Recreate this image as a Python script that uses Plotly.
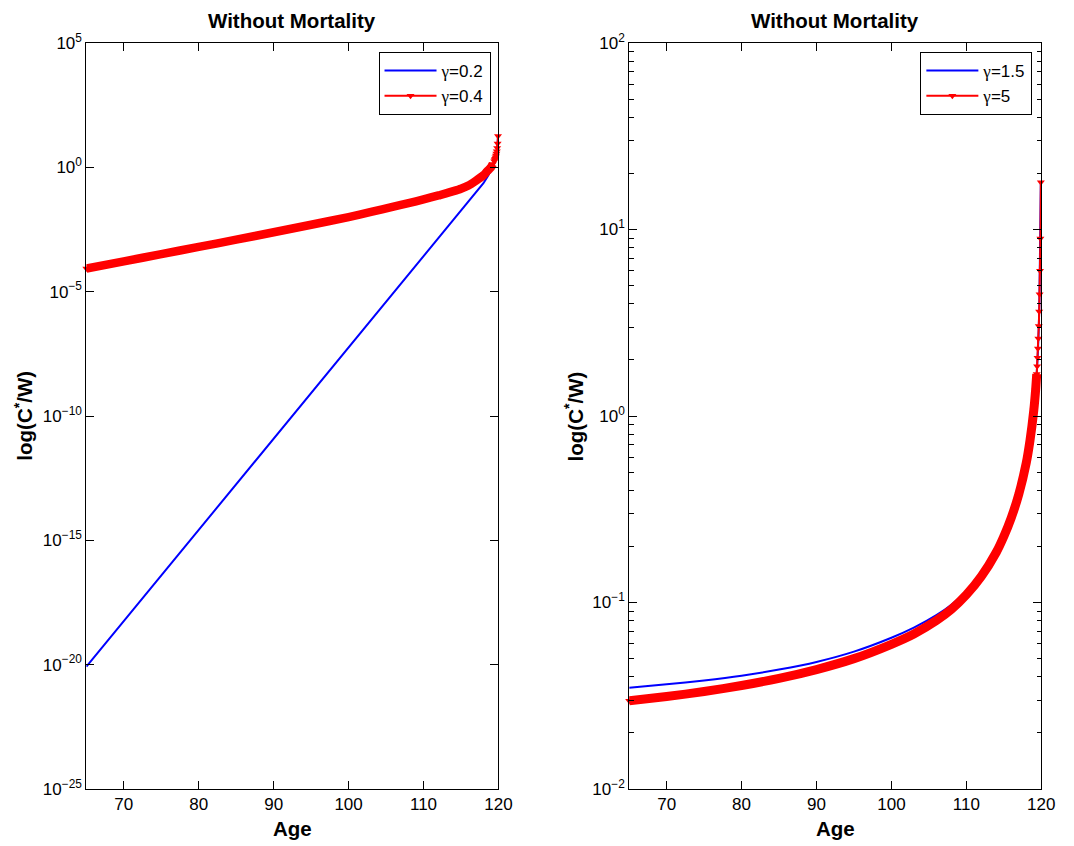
import plotly.graph_objects as go

# ---------------- data ----------------
# Left panel: gamma = 0.2 and gamma = 0.4
age_left_g02 = [65, 75, 85, 95, 105, 110, 113, 115, 116, 117, 118, 118.5, 119, 119.5, 119.75, 119.89, 119.945]
cw_left_g02 = [8.3e-21, 3.9e-17, 1.8e-13, 8.5e-10, 4.0e-6, 2.7e-4, 3.4e-3, 0.0182, 0.0417, 0.0955,
               0.229, 0.40, 0.72, 1.62, 3.63, 8.7, 17.9]

age_left_g04 = [65, 70, 75, 80, 85, 90, 95, 100, 103, 106, 108, 110, 112, 113, 114, 115, 116, 117, 118,
                118.5, 119, 119.25, 119.45, 119.505, 119.56, 119.615, 119.67, 119.725, 119.78, 119.835,
                119.89, 119.945]
cw_left_g04 = [8.5e-5, 1.66e-4, 3.24e-4, 6.3e-4, 1.23e-3, 2.45e-3, 4.9e-3, 0.0100, 0.0162, 0.0263,
               0.0363, 0.0513, 0.0741, 0.0891, 0.110, 0.138, 0.185, 0.29, 0.48,
               0.70, 1.0, 1.35, 1.75, 1.95, 2.21, 2.53, 2.96, 3.57, 4.48, 5.99,
               9.0, 18.1]

# Right panel: gamma = 1.5 and gamma = 5
age_right_g15 = [65, 70, 75, 80, 85, 90, 95, 100, 103, 106, 108, 110, 112, 114, 116, 117, 118, 118.5,
                 119, 119.5, 119.75, 119.945]
cw_right_g15 = [0.0349, 0.0364, 0.0382, 0.0405, 0.0437, 0.0480, 0.0545, 0.0647, 0.0733, 0.0855,
                0.0973, 0.115, 0.140, 0.188, 0.287, 0.38, 0.56, 0.74,
                1.07, 2.0, 4.0, 17.9]

age_right_g5 = [65, 70, 75, 80, 85, 90, 95, 100, 103, 106, 108, 110, 112, 114, 115, 116, 117, 118, 118.5,
                119, 119.25, 119.395, 119.45, 119.505, 119.56, 119.615, 119.67, 119.725, 119.78, 119.835,
                119.89, 119.945]
cw_right_g5 = [0.0297, 0.0313, 0.0333, 0.0359, 0.0392, 0.0437, 0.0500, 0.0597, 0.0678, 0.0800,
               0.0919, 0.110, 0.138, 0.186, 0.226, 0.285, 0.38, 0.56, 0.74,
               1.07, 1.38, 1.68, 1.85, 2.05, 2.3, 2.6, 3.04, 3.63, 4.5, 6.0,
               8.95, 17.9]

x_ticks = [70, 80, 90, 100, 110, 120]
left_y_ticks = [1e-25, 1e-20, 1e-15, 1e-10, 1e-5, 1e0, 1e5]
left_y_text = ["10<sup>\u221225</sup>", "10<sup>\u221220</sup>", "10<sup>\u221215</sup>",
               "10<sup>\u221210</sup>", "10<sup>\u22125</sup>", "10<sup>0</sup>", "10<sup>5</sup>"]
right_y_ticks = [1e-2, 1e-1, 1e0, 1e1, 1e2]
right_y_text = ["10<sup>\u22122</sup>", "10<sup>\u22121</sup>", "10<sup>0</sup>", "10<sup>1</sup>", "10<sup>2</sup>"]
right_minor = [m * 10.0 ** k for k in range(-2, 2) for m in range(2, 10)]

FONT = "Liberation Sans, Arial, Helvetica, sans-serif"
GAMMA = "<span style='font-family:Liberation Serif'>\u03b3</span>"
BLUE = "#0000ff"
RED = "#ff0000"
BAND_LEFT_END = 22    # points merged into a solid marker band (left)
BAND_RIGHT_END = 22   # points merged into a solid marker band (right)

fig = go.Figure()

# ---- left panel ----
fig.add_trace(go.Scatter(x=age_left_g02, y=cw_left_g02, mode="lines", name=GAMMA + "=0.2",
                         line=dict(color=BLUE, width=2), xaxis="x", yaxis="y", legend="legend"))
fig.add_trace(go.Scatter(x=age_left_g04[:BAND_LEFT_END], y=cw_left_g04[:BAND_LEFT_END], mode="lines",
                         line=dict(color=RED, width=8.5, shape="spline", smoothing=0.6),
                         showlegend=False, hoverinfo="skip", xaxis="x", yaxis="y"))
fig.add_trace(go.Scatter(x=age_left_g04, y=cw_left_g04, mode="lines+markers", name=GAMMA + "=0.4",
                         line=dict(color=RED, width=2),
                         marker=dict(symbol="triangle-down", size=7, color=RED),
                         cliponaxis=False, xaxis="x", yaxis="y", legend="legend"))

# ---- right panel ----
fig.add_trace(go.Scatter(x=age_right_g15, y=cw_right_g15, mode="lines", name=GAMMA + "=1.5",
                         line=dict(color=BLUE, width=2, shape="spline", smoothing=0.6),
                         xaxis="x2", yaxis="y2", legend="legend2"))
fig.add_trace(go.Scatter(x=age_right_g5[:BAND_RIGHT_END], y=cw_right_g5[:BAND_RIGHT_END], mode="lines",
                         line=dict(color=RED, width=9, shape="spline", smoothing=0.6),
                         showlegend=False, hoverinfo="skip", xaxis="x2", yaxis="y2"))
fig.add_trace(go.Scatter(x=age_right_g5, y=cw_right_g5, mode="lines+markers", name=GAMMA + "=5",
                         line=dict(color=RED, width=2),
                         marker=dict(symbol="triangle-down", size=7, color=RED),
                         cliponaxis=False, xaxis="x2", yaxis="y2", legend="legend2"))

W, H = 1074, 846
TOP, BOT = 43, 789
L1, R1 = 87.5, 505
L2, R2 = 637.5, 1055

axis_common = dict(showline=True, linecolor="black", linewidth=1, mirror="allticks",
                   ticks="inside", ticklen=8, tickcolor="black", tickwidth=1,
                   showgrid=False, zeroline=False,
                   tickfont=dict(family=FONT, size=17, color="black"))

legend_common = dict(xanchor="right", yanchor="top", y=(BOT - 52) / (BOT - TOP),
                     bordercolor="black", borderwidth=1, bgcolor="white", itemwidth=52,
                     font=dict(family=FONT, size=17, color="black"))

fig.update_layout(
    width=W, height=H,
    margin=dict(l=0, r=0, t=TOP, b=H - BOT),
    paper_bgcolor="white", plot_bgcolor="white",
    font=dict(family=FONT, color="black"),
    xaxis=dict(domain=[L1 / W, R1 / W], range=[65, 120], tickvals=x_ticks, anchor="y", **axis_common),
    yaxis=dict(type="log", range=[-25, 5], tickvals=left_y_ticks, ticktext=left_y_text,
               anchor="x", **axis_common),
    xaxis2=dict(domain=[L2 / W, R2 / W], range=[65, 120], tickvals=x_ticks, anchor="y2", **axis_common),
    yaxis2=dict(type="log", range=[-2, 2], tickvals=right_y_ticks, ticktext=right_y_text,
                anchor="x2",
                minor=dict(tickvals=right_minor, ticks="inside", ticklen=4.5, tickcolor="black",
                           showgrid=False),
                **axis_common),
    legend=dict(x=497 / W, **legend_common),
    legend2=dict(x=1046 / W, **legend_common),
    showlegend=True,
)

ann_font_b = dict(family=FONT, size=20.5, color="black")
annotations = []
for cx in [(L1 + R1) / 2 / W, (L2 + R2) / 2 / W]:
    annotations.append(dict(text="<b>Without Mortality</b>", x=cx, y=1, xref="paper", yref="paper",
                            yanchor="middle", xanchor="center", yshift=TOP - 20, showarrow=False,
                            font=ann_font_b))
    annotations.append(dict(text="<b>Age</b>", x=cx, y=0, xref="paper", yref="paper",
                            yanchor="middle", xanchor="center", yshift=-39, showarrow=False,
                            font=ann_font_b))
for lx in [24 / W, 582 / W]:
    annotations.append(dict(text="<b>log(C<sup>*</sup>/W)</b>", x=lx, y=0.5, xref="paper", yref="paper",
                            yanchor="middle", xanchor="center", textangle=-90, showarrow=False,
                            font=ann_font_b))
fig.update_layout(annotations=annotations)

fig.write_html("out.html")
